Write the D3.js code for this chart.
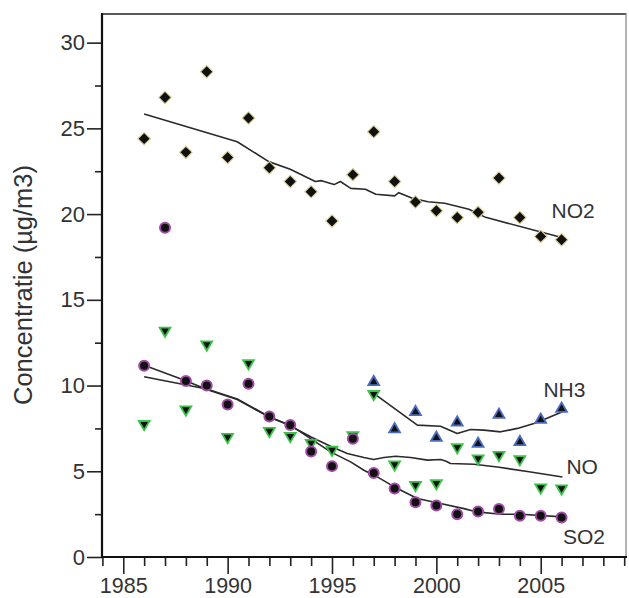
<!DOCTYPE html>
<html>
<head>
<meta charset="utf-8">
<script src="https://cdn.jsdelivr.net/npm/d3@7"></script>
<style>
  body { margin: 0; background: #fff; }
  svg { display: block; font-family: "Liberation Sans", Arial, sans-serif; }
  .tick text { fill: #333; }
</style>
</head>
<body>
<div id="chart"></div>
<script>
// measured yearly values (µg/m3)
var years = [1986, 1987, 1988, 1989, 1990, 1991, 1992, 1993, 1994, 1995, 1996,
             1997, 1998, 1999, 2000, 2001, 2002, 2003, 2004, 2005, 2006];
var no2Values = [24.4, 26.8, 23.6, 28.3, 23.3, 25.6, 22.7, 21.9, 21.3, 19.6, 22.3,
                 24.8, 21.9, 20.7, 20.2, 19.8, 20.1, 22.1, 19.8, 18.7, 18.5];
var so2Values = [11.15, 19.2, 10.26, 10.0, 8.9, 10.1, 8.2, 7.7, 6.15, 5.3, 6.9,
                 4.9, 4.0, 3.2, 3.0, 2.5, 2.65, 2.8, 2.4, 2.4, 2.3];
var noValues = [7.75, 13.2, 8.6, 12.4, 7.0, 11.3, 7.35, 7.05, 6.65, 6.25, 7.1,
                9.5, 5.4, 4.2, 4.3, 6.4, 5.75, 5.95, 5.7, 4.05, 4.0];
var nh3Years = [1997, 1998, 1999, 2000, 2001, 2002, 2003, 2004, 2005, 2006];
var nh3Values = [10.2, 7.45, 8.45, 6.95, 7.85, 6.6, 8.3, 6.7, 8.0, 8.65];

// smoothed trend lines [year, value]
var no2Trend = [[1986, 25.84], [1990.46, 24.22], [1991.97, 23.06], [1993, 22.62], [1994.2, 21.9],
                [1994.5, 21.95], [1995.1, 21.72], [1995.4, 21.9], [1995.9, 21.5], [1996.6, 21.45],
                [1997.1, 21.16], [1998.0, 21.06], [1998.2, 21.25], [1998.85, 20.92], [1999.6, 20.72],
                [2000.4, 20.63], [2001.56, 20.28], [2002.36, 19.81], [2006.05, 18.62]];
var so2Trend = [[1986, 11.19], [1988, 10.28], [1989, 9.77], [1990.46, 9.19], [1991.97, 8.17],
                [1993, 7.69], [1994.93, 6.13], [1995.89, 5.55], [1996.53, 5.06], [1997.17, 4.67],
                [1998.13, 3.99], [1999.09, 3.41], [2000.2, 3.12], [2001.32, 2.82], [2001.96, 2.63],
                [2003.08, 2.49], [2004.04, 2.49], [2006.05, 2.34]];
var noTrend = [[1986, 10.51], [1989, 9.8], [1990.46, 9.22], [1991.97, 8.2], [1993, 7.65],
               [1994.0, 7.0], [1994.93, 6.46], [1995.73, 6.04], [1996.53, 5.8], [1997.0, 5.69],
               [1997.49, 5.8], [1998.05, 5.88], [1998.77, 5.8], [1999.57, 5.65], [2000.2, 5.69],
               [2000.44, 5.6], [2000.68, 5.45], [2001.8, 5.41], [2002.92, 5.25], [2004.52, 4.96],
               [2006.04, 4.67]];
var nh3Trend = [[1997, 9.54], [1999.09, 7.69], [2000.2, 7.63], [2001.0, 7.2], [2001.64, 7.44],
                [2002.28, 7.4], [2003.08, 7.3], [2003.88, 7.5], [2004.68, 7.79], [2005.16, 8.02],
                [2006.04, 8.47]];

// axis ticks
var xMajorTicks = [1985, 1990, 1995, 2000, 2005];
var xMinorTicks = [1984, 1986, 1987, 1988, 1989, 1991, 1992, 1993, 1994, 1996, 1997, 1998,
                   1999, 2001, 2002, 2003, 2004, 2006, 2007, 2008, 2009];
var yMajorTicks = [0, 5, 10, 15, 20, 25, 30];
var yMinorTicks = [2.5, 7.5, 12.5, 17.5, 22.5, 27.5];

// series labels
var seriesLabels = ["NO2", "NH3", "NO", "SO2"];
var labelYears = [2005.52, 2005.13, 2006.23, 2006.07];
var labelValues = [19.75, 9.32, 4.83, 0.74];

var svgWidth = 629;
var svgHeight = 598;

var svg = d3.select("#chart")
  .append("svg")
  .attr("width", svgWidth)
  .attr("height", svgHeight);

var x = d3.scaleLinear().domain([1984, 2009]).range([102.4, 624.2]);
var y = d3.scaleLinear().domain([0, 31.67]).range([557, 14]);

// frame (top and right borders)
svg.append("line")
  .attr("x1", 102).attr("x2", 626.5).attr("y1", 14).attr("y2", 14)
  .attr("stroke", "#5a5a5a").attr("stroke-width", 2);
svg.append("line")
  .attr("x1", 626).attr("x2", 626).attr("y1", 14).attr("y2", 557)
  .attr("stroke", "#9a9a9a").attr("stroke-width", 1.5);

// minor ticks
svg.append("g")
  .attr("transform", "translate(0,557)")
  .call(d3.axisBottom(x).tickValues(xMinorTicks).tickSize(9).tickFormat(""))
  .call(g => g.select(".domain").remove())
  .selectAll("line").attr("stroke", "#222").attr("stroke-width", 1.6);
svg.append("g")
  .attr("transform", "translate(102,0)")
  .call(d3.axisLeft(y).tickValues(yMinorTicks).tickSize(7).tickFormat(""))
  .call(g => g.select(".domain").remove())
  .selectAll("line").attr("stroke", "#222").attr("stroke-width", 1.6);

// major axes
var xAxis = svg.append("g")
  .attr("transform", "translate(0,557)")
  .call(d3.axisBottom(x).tickValues(xMajorTicks).tickSize(17).tickPadding(3.5).tickFormat(d3.format("d")));
xAxis.selectAll("text").attr("font-size", 21.5);

var yAxis = svg.append("g")
  .attr("transform", "translate(102,0)")
  .call(d3.axisLeft(y).tickValues(yMajorTicks).tickSize(15).tickPadding(2));
yAxis.selectAll("text").attr("font-size", 22);

[xAxis, yAxis].forEach(function (g) {
  g.select(".domain").remove();
  g.selectAll(".tick line").attr("stroke", "#222").attr("stroke-width", 1.6);
});

// axis lines
svg.append("line")
  .attr("x1", 102).attr("x2", 102).attr("y1", 13).attr("y2", 558)
  .attr("stroke", "#111").attr("stroke-width", 2.2);
svg.append("line")
  .attr("x1", 101).attr("x2", 627).attr("y1", 557).attr("y2", 557)
  .attr("stroke", "#111").attr("stroke-width", 2.2);

// y axis title
svg.append("text")
  .attr("transform", "translate(31.5,285) rotate(-90)")
  .attr("text-anchor", "middle")
  .attr("font-size", 25.5)
  .attr("fill", "#333")
  .text("Concentratie (\u00b5g/m3)");

// trend lines
var line = d3.line()
  .x(function (d) { return x(d[0]); })
  .y(function (d) { return y(d[1]); });

[nh3Trend, noTrend, so2Trend, no2Trend].forEach(function (t) {
  svg.append("path")
    .datum(t)
    .attr("d", line)
    .attr("fill", "none")
    .attr("stroke", "#2a2a2a")
    .attr("stroke-width", 1.6)
    .attr("stroke-linejoin", "round");
});

function pairs(xs, vs) {
  return xs.map(function (yr, i) { return { year: yr, value: vs[i] }; });
}

function triangle(w, h, up) {
  // centred on the centroid
  var s = up ? -1 : 1;
  return "M" + (-w) + "," + (-s * h / 3) +
         "L" + w + "," + (-s * h / 3) +
         "L0," + (s * 2 * h / 3) + "Z";
}

// NO: green down triangles
var noG = svg.append("g").selectAll("g")
  .data(pairs(years, noValues))
  .enter().append("g")
  .attr("transform", function (d) { return "translate(" + x(d.year) + "," + y(d.value) + ")"; });
noG.append("path").attr("d", triangle(7, 12, false)).attr("fill", "#3cc24a");
noG.append("path").attr("d", triangle(3.8, 6.6, false)).attr("fill", "#111");

// NH3: blue up triangles
var nh3G = svg.append("g").selectAll("g")
  .data(pairs(nh3Years, nh3Values))
  .enter().append("g")
  .attr("transform", function (d) { return "translate(" + x(d.year) + "," + y(d.value) + ")"; });
nh3G.append("path").attr("d", triangle(7, 12, true)).attr("fill", "#4a6cc0");
nh3G.append("path").attr("d", triangle(3.8, 6.6, true)).attr("fill", "#111");

// SO2: black circles with purple ring
svg.append("g").selectAll("circle")
  .data(pairs(years, so2Values))
  .enter().append("circle")
  .attr("cx", function (d) { return x(d.year); })
  .attr("cy", function (d) { return y(d.value); })
  .attr("r", 5)
  .attr("fill", "#111")
  .attr("stroke", "#a24aa8")
  .attr("stroke-width", 2);

// NO2: black diamonds with a pale halo
svg.append("g").selectAll("path")
  .data(pairs(years, no2Values))
  .enter().append("path")
  .attr("d", d3.symbol(d3.symbolSquare, 78))
  .attr("transform", function (d) { return "translate(" + x(d.year) + "," + y(d.value) + ") rotate(45)"; })
  .attr("fill", "#111")
  .attr("stroke", "#d8cf9a")
  .attr("stroke-width", 1.1);

// series labels
svg.append("g").selectAll("text")
  .data(seriesLabels)
  .enter().append("text")
  .attr("x", function (d, i) { return x(labelYears[i]); })
  .attr("y", function (d, i) { return y(labelValues[i]); })
  .attr("font-size", 21)
  .attr("fill", "#333")
  .text(function (d) { return d; });
</script>
</body>
</html>
